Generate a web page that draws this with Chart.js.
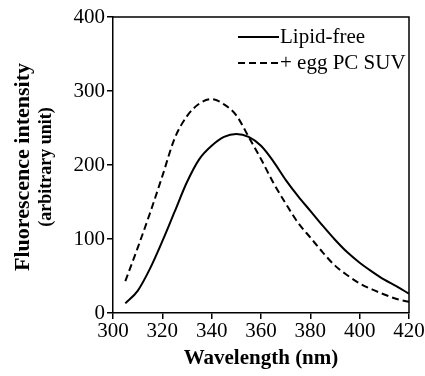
<!DOCTYPE html>
<html>
<head>
<meta charset="utf-8">
<script src="https://cdn.jsdelivr.net/npm/chart.js@4"></script>
<style>
    html, body { margin: 0; padding: 0; background: #fff; }
    #wrap { width: 425px; height: 376px; position: relative; }
</style>
</head>
<body>
<div id="wrap"><canvas id="spectrum"></canvas></div>
<script>
// Emission spectra
var wavelengths = [305, 310, 315, 320, 325, 330, 335, 340, 345, 350, 355, 360,
                   365, 370, 375, 380, 385, 390, 395, 400, 405, 410, 415, 420];
var lipidFree = [13, 30, 60, 97, 137, 177, 208, 226, 238, 242, 238, 226,
                 205, 180, 158, 138, 118, 99, 82, 68, 56, 45, 36, 26];
var eggPC = [43, 88, 135, 185, 236, 266, 283, 289, 282, 267, 238, 208,
             176, 148, 122, 102, 82, 64, 51, 40, 32, 25, 19, 15];
var xTicks = [300, 320, 340, 360, 380, 400, 420];
var yTicks = [0, 100, 200, 300, 400];

var serif = "'Liberation Serif', 'Times New Roman', serif";

function toPoints(vals) {
    var pts = [];
    for (var i = 0; i < wavelengths.length; i++) {
        pts.push({ x: wavelengths[i], y: vals[i] });
    }
    return pts;
}

// frame on top/right, custom legend and the two-line y title
var extras = {
    id: 'extras',
    afterDraw: function (chart) {
        var ctx = chart.ctx;
        var a = chart.chartArea;
        ctx.save();
        ctx.strokeStyle = '#000';
        ctx.lineWidth = 1.5;
        ctx.beginPath();
        ctx.moveTo(a.left, a.top);
        ctx.lineTo(a.right, a.top);
        ctx.lineTo(a.right, a.bottom);
        ctx.stroke();

        // legend
        var items = [
            { label: 'Lipid-free', dash: [] },
            { label: '+ egg PC SUV', dash: [7, 4] }
        ];
        ctx.font = '21px ' + serif;
        ctx.fillStyle = '#000';
        ctx.textBaseline = 'middle';
        for (var i = 0; i < items.length; i++) {
            var y = a.top + 20 + i * 26;
            var x0 = a.right - 171;
            ctx.setLineDash(items[i].dash);
            ctx.lineWidth = 2;
            ctx.beginPath();
            ctx.moveTo(x0, y);
            ctx.lineTo(x0 + 41, y);
            ctx.stroke();
            ctx.setLineDash([]);
            ctx.fillText(items[i].label, x0 + 42, y);
        }

        // y axis title
        var cy = (a.top + a.bottom) / 2 + 2;
        ctx.translate(23, cy);
        ctx.rotate(-Math.PI / 2);
        ctx.textAlign = 'center';
        ctx.font = 'bold 22px ' + serif;
        ctx.fillText('Fluorescence intensity', 0, 0);
        ctx.font = 'bold 18px ' + serif;
        ctx.fillText('(arbitrary unit)', 0, 23);
        ctx.restore();
    }
};

var ctx = document.getElementById('spectrum').getContext('2d');
new Chart(ctx, {
    type: 'line',
    data: {
        datasets: [
            {
                label: 'Lipid-free',
                data: toPoints(lipidFree),
                borderColor: '#000',
                borderWidth: 2,
                pointRadius: 0,
                cubicInterpolationMode: 'monotone',
                fill: false
            },
            {
                label: '+ egg PC SUV',
                data: toPoints(eggPC),
                borderColor: '#000',
                borderWidth: 2,
                borderDash: [7, 4],
                pointRadius: 0,
                cubicInterpolationMode: 'monotone',
                fill: false
            }
        ]
    },
    options: {
        responsive: true,
        maintainAspectRatio: false,
        animation: false,
        layout: { padding: { top: 17, right: 16, left: 0, bottom: 0 } },
        plugins: {
            legend: { display: false },
            tooltip: { enabled: false }
        },
        scales: {
            x: {
                type: 'linear',
                min: 300,
                max: 420,
                afterFit: function (scale) { scale.height = 63; },
                afterBuildTicks: function (scale) {
                    scale.ticks = xTicks.map(function (v) { return { value: v }; });
                },
                ticks: {
                    color: '#000',
                    font: { family: serif, size: 21 },
                    padding: 0,
                    maxRotation: 0
                },
                grid: {
                    drawOnChartArea: false,
                    drawTicks: true,
                    tickLength: 6,
                    color: '#000',
                    lineWidth: 1.5
                },
                border: { display: true, color: '#000', width: 1.5 },
                title: {
                    display: true,
                    text: 'Wavelength (nm)',
                    color: '#000',
                    font: { family: serif, size: 21, weight: 'bold' },
                    padding: { top: 0, bottom: 5 }
                }
            },
            y: {
                min: 0,
                max: 400,
                afterFit: function (scale) { scale.width = 113; },
                afterBuildTicks: function (scale) {
                    scale.ticks = yTicks.map(function (v) { return { value: v }; });
                },
                ticks: {
                    color: '#000',
                    font: { family: serif, size: 21 },
                    padding: 2
                },
                grid: {
                    drawOnChartArea: false,
                    drawTicks: true,
                    tickLength: 6,
                    color: '#000',
                    lineWidth: 1.5
                },
                border: { display: true, color: '#000', width: 1.5 }
            }
        }
    },
    plugins: [extras]
});
</script>
</body>
</html>
